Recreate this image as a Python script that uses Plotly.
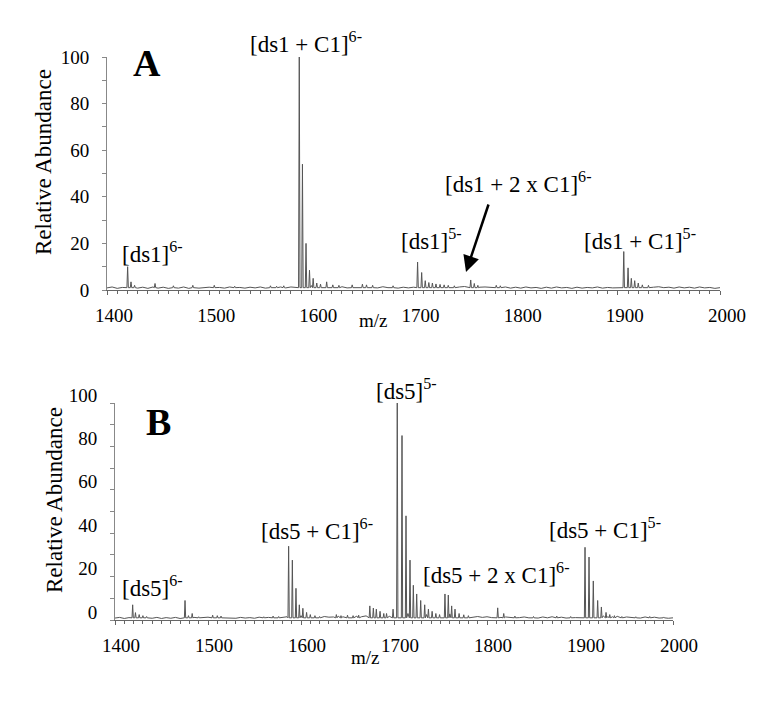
import plotly.graph_objects as go

W, H = 777, 702
PAD = 8                      # default body margin of the html page
FW, FH = W - 2 * PAD, H - 2 * PAD
SERIF = "Liberation Serif"

# ---------------- data ----------------
mz_start, mz_step = 1400, 5   # baseline sampled every 5 m/z

# panel A: baseline noise (1400..2000)
a_noise = [
    0.9, 1.3, 0.7, 1.1, 1.2, 1.4, 0.8, 1.2, 0.7, 1.3, 0.8, 1.2, 0.7, 1.1, 0.8, 1.3, 0.7, 1.2, 0.8, 1.1,
    1.2, 0.7, 1.1, 0.8, 1.3, 0.7, 1.1, 0.8, 1.2, 0.9, 1.3, 0.8, 1.4, 1.0, 1.3, 0.9, 1.3, 1.0, 1.5, 1.8,
    1.9, 1.6, 1.8, 1.3, 1.6, 1.1, 1.4, 0.9, 1.5, 1.0, 1.6, 1.1, 1.4, 0.9, 1.4, 1.0, 1.3, 0.8, 1.2, 0.9,
    1.2, 2.6, 2.8, 2.4, 2.5, 1.9, 2.1, 1.6, 1.8, 1.3, 1.5, 1.5, 1.8, 1.2, 1.3, 1.0, 1.5, 1.2, 1.3, 0.8,
    1.2, 0.8, 1.3, 0.9, 1.1, 0.7, 1.2, 0.8, 1.3, 0.9, 1.1, 0.7, 1.2, 0.8, 1.1, 0.9, 1.3, 0.8, 1.1, 0.9,
    1.1, 1.0, 1.9, 2.0, 1.6, 1.5, 1.3, 1.2, 1.4, 1.0, 1.2, 0.8, 1.3, 0.9, 1.2, 0.8, 1.3, 0.9, 1.1, 0.7,
    1.0,
]
a_peak_mz = [1420.2, 1423.5, 1427, 1447, 1465, 1484, 1505, 1525, 1560, 1566, 1573,
             1588.2, 1591.3, 1594.8, 1598.2, 1601.8, 1605.3, 1609, 1615, 1621, 1627,
             1640, 1650, 1654, 1660, 1680,
             1704, 1708, 1711.5, 1715, 1718.5, 1722, 1726, 1730, 1734, 1740,
             1756, 1759.5, 1763, 1781, 1785,
             1905.8, 1910, 1913.2, 1916.5, 1920, 1924, 1930]
a_peak_int = [10, 3.5, 2, 2.8, 1.8, 2, 2, 1.6, 1.8, 1.6, 1.8,
              100, 54, 20, 8.5, 5, 3, 2.5, 3.5, 2.2, 2,
              2.2, 2.5, 2.2, 2, 1.8,
              12, 7.5, 4, 3.2, 3, 2.6, 2.4, 2.2, 2, 1.8,
              4.3, 2.8, 2, 2, 1.8,
              16.5, 9.5, 5, 4, 3, 2.2, 2]

# panel B: baseline noise (1400..2000)
b_noise = [
    0.9, 1.2, 0.7, 1.1, 1.3, 1.6, 1.2, 1.3, 0.8, 1.2, 0.7, 1.1, 0.8, 1.2, 0.7, 1.3, 0.8, 1.2, 0.9, 1.1,
    1.3, 1.5, 1.2, 1.4, 0.9, 1.1, 0.8, 1.2, 0.9, 1.1, 0.8, 1.3, 1.0, 1.2, 0.9, 1.4, 1.1, 1.5, 1.2, 1.4,
    2.0, 2.2, 1.8, 1.9, 1.5, 1.6, 1.3, 1.4, 1.8, 1.5, 1.9, 1.4, 1.8, 1.5, 1.9, 1.6, 2.2, 1.8, 2.3, 1.7,
    1.9, 2.4, 3.2, 3.0, 3.4, 2.8, 3.1, 2.5, 2.8, 2.2, 2.4, 2.3, 2.8, 2.2, 2.0, 1.6, 1.8, 1.4, 1.6, 1.2,
    1.5, 1.1, 1.6, 1.2, 1.4, 1.0, 1.5, 1.1, 1.4, 1.0, 1.3, 0.9, 1.4, 1.0, 1.5, 1.1, 1.3, 0.9, 1.4, 1.1,
    1.2, 1.0, 2.1, 2.4, 2.0, 1.9, 1.6, 1.5, 1.7, 1.2, 1.4, 1.0, 1.3, 0.9, 1.4, 1.0, 1.3, 0.9, 1.2, 0.8,
    1.0,
]
b_peak_mz = [1419, 1422, 1426, 1430, 1434, 1475.3, 1479, 1483, 1490, 1505, 1510, 1514,
             1560, 1570, 1576,
             1586.7, 1590.7, 1594.6, 1598.2, 1602, 1606, 1610, 1615, 1620,
             1638, 1643, 1650, 1656, 1662, 1674, 1677.8, 1681, 1685, 1689, 1692, 1699,
             1703.5, 1708.6, 1712.9, 1717.2, 1720.8, 1724.4, 1728.7, 1733, 1737, 1741, 1745, 1749,
             1754.8, 1758.4, 1762, 1765.6, 1770, 1775, 1780,
             1811.5, 1818, 1830, 1850, 1875, 1890,
             1905.4, 1909.7, 1914.3, 1919, 1923, 1928, 1932, 1937, 1945, 1960, 1975, 1990]
b_peak_int = [7, 3.4, 2.5, 2, 1.6, 9, 2, 3, 1.5, 2.2, 2, 1.8,
              1.5, 1.8, 1.6,
              34, 27.6, 14.6, 7, 5.4, 3.5, 2.5, 2, 1.6,
              2.5, 2, 2.2, 2, 2.2, 6.5, 5.5, 5, 4, 3, 3, 5,
              100, 85, 48, 27.6, 16, 12, 9, 7, 5, 4, 3, 2.5,
              12, 11.5, 6.5, 5, 3, 2.4, 2,
              5.6, 3, 1.8, 1.6, 1.8, 1.6,
              33.5, 29, 18, 9, 6, 3.5, 2.5, 2, 1.6, 1.5, 1.6, 1.4]

x_ticks = [1400, 1500, 1600, 1700, 1800, 1900, 2000]
y_ticks = [0, 20, 40, 60, 80, 100]

labels_a = ["[ds1 + C1]<sup>6-</sup>", "[ds1]<sup>6-</sup>", "[ds1]<sup>5-</sup>",
            "[ds1 + 2 x C1]<sup>6-</sup>", "[ds1 + C1]<sup>5-</sup>"]
labels_b = ["[ds5]<sup>5-</sup>", "[ds5 + C1]<sup>6-</sup>", "[ds5]<sup>6-</sup>",
            "[ds5 + 2 x C1]<sup>6-</sup>", "[ds5 + C1]<sup>5-</sup>"]


def spectrum(noise, peak_mz, peak_int, half=0.7, foot=1.0):
    pts = []
    for i, v in enumerate(noise):
        mz = mz_start + i * mz_step
        if all(abs(mz - p) > 1.5 for p in peak_mz):
            pts.append((mz, v))
    for p, h in zip(peak_mz, peak_int):
        pts += [(p - half, foot), (p, h), (p + half, foot)]
    pts.sort()
    return [p[0] for p in pts], [p[1] for p in pts]


# screen pixel -> paper fraction (figure div sits PAD px in from the page corner)
def fx(x):
    return (x - PAD) / FW


def fy(y):
    return 1 - (y - PAD) / FH


fig = go.Figure()
ax, ay = spectrum(a_noise, a_peak_mz, a_peak_int)
bx, by = spectrum(b_noise, b_peak_mz, b_peak_int)
fig.add_trace(go.Scatter(x=ax, y=ay, mode="lines", line=dict(color="#555555", width=1),
                         xaxis="x", yaxis="y", hoverinfo="skip"))
fig.add_trace(go.Scatter(x=bx, y=by, mode="lines", line=dict(color="#555555", width=1),
                         xaxis="x2", yaxis="y2", hoverinfo="skip"))

tickfont = dict(family=SERIF, size=19, color="black")


def xaxis(domain, anchor, shift):
    return dict(domain=domain, anchor=anchor, range=[1400, 2000], tickmode="array",
                tickvals=x_ticks, ticks="outside", ticklen=4, tickcolor="#666",
                minor=dict(tick0=1400, dtick=10, ticks="outside", ticklen=3, tickcolor="#666"),
                showline=True, linecolor="#666", linewidth=1, showgrid=False, zeroline=False,
                tickfont=tickfont, ticklabelstandoff=4, ticklabelshift=shift, automargin=False)


def yaxis(domain, anchor, shift):
    return dict(domain=domain, anchor=anchor, range=[0, 100], tickmode="array",
                tickvals=y_ticks, ticks="outside", ticklen=4, tickcolor="#888",
                minor=dict(tick0=0, dtick=10, ticks="outside", ticklen=4, tickcolor="#888"),
                showline=True, linecolor="#888", linewidth=1, showgrid=False, zeroline=False,
                tickfont=tickfont, ticklabelstandoff=9, ticklabelshift=shift, automargin=False)


fig.update_layout(
    width=FW, height=FH,
    margin=dict(l=0, r=0, t=0, b=0, autoexpand=False),
    paper_bgcolor="white", plot_bgcolor="white",
    showlegend=False,
    xaxis=xaxis([fx(107), fx(720)], "y", 7),
    yaxis=yaxis([fy(290), fy(57)], "x", 0),
    xaxis2=xaxis([fx(115), fx(673)], "y2", 6),
    yaxis2=yaxis([fy(620), fy(403)], "x2", -8),
)


def note(text, x, y, size=23, bold=False, angle=0):
    if bold:
        text = f"<b>{text}</b>"
    fig.add_annotation(text=text, x=fx(x), y=fy(y), xref="paper", yref="paper",
                       xanchor="center", yanchor="middle", showarrow=False, textangle=angle,
                       font=dict(family=SERIF, size=size, color="black"))


# panel A
note("A", 147, 63, size=38, bold=True)
for t, (x, y) in zip(labels_a, [(306, 43), (152, 252), (432, 239), (519, 182), (640, 239)]):
    note(t, x, y)
note("Relative Abundance", 43, 162, angle=-90)
note("m/z", 373, 320, size=19)
fig.add_annotation(x=fx(466), y=fy(272), ax=489 - 466, ay=203 - 272, xref="paper", yref="paper",
                   axref="pixel", ayref="pixel", text="", showarrow=True, arrowhead=2,
                   arrowsize=1.3, arrowwidth=2.5, arrowcolor="black")

# panel B
note("B", 158, 422, size=38, bold=True)
for t, (x, y) in zip(labels_b, [(406, 389), (317, 529), (152, 586), (496, 573), (605, 528)]):
    note(t, x, y)
note("Relative Abundance", 54, 500, angle=-90)
note("m/z", 365, 657, size=19)

fig.write_html("out.html")
